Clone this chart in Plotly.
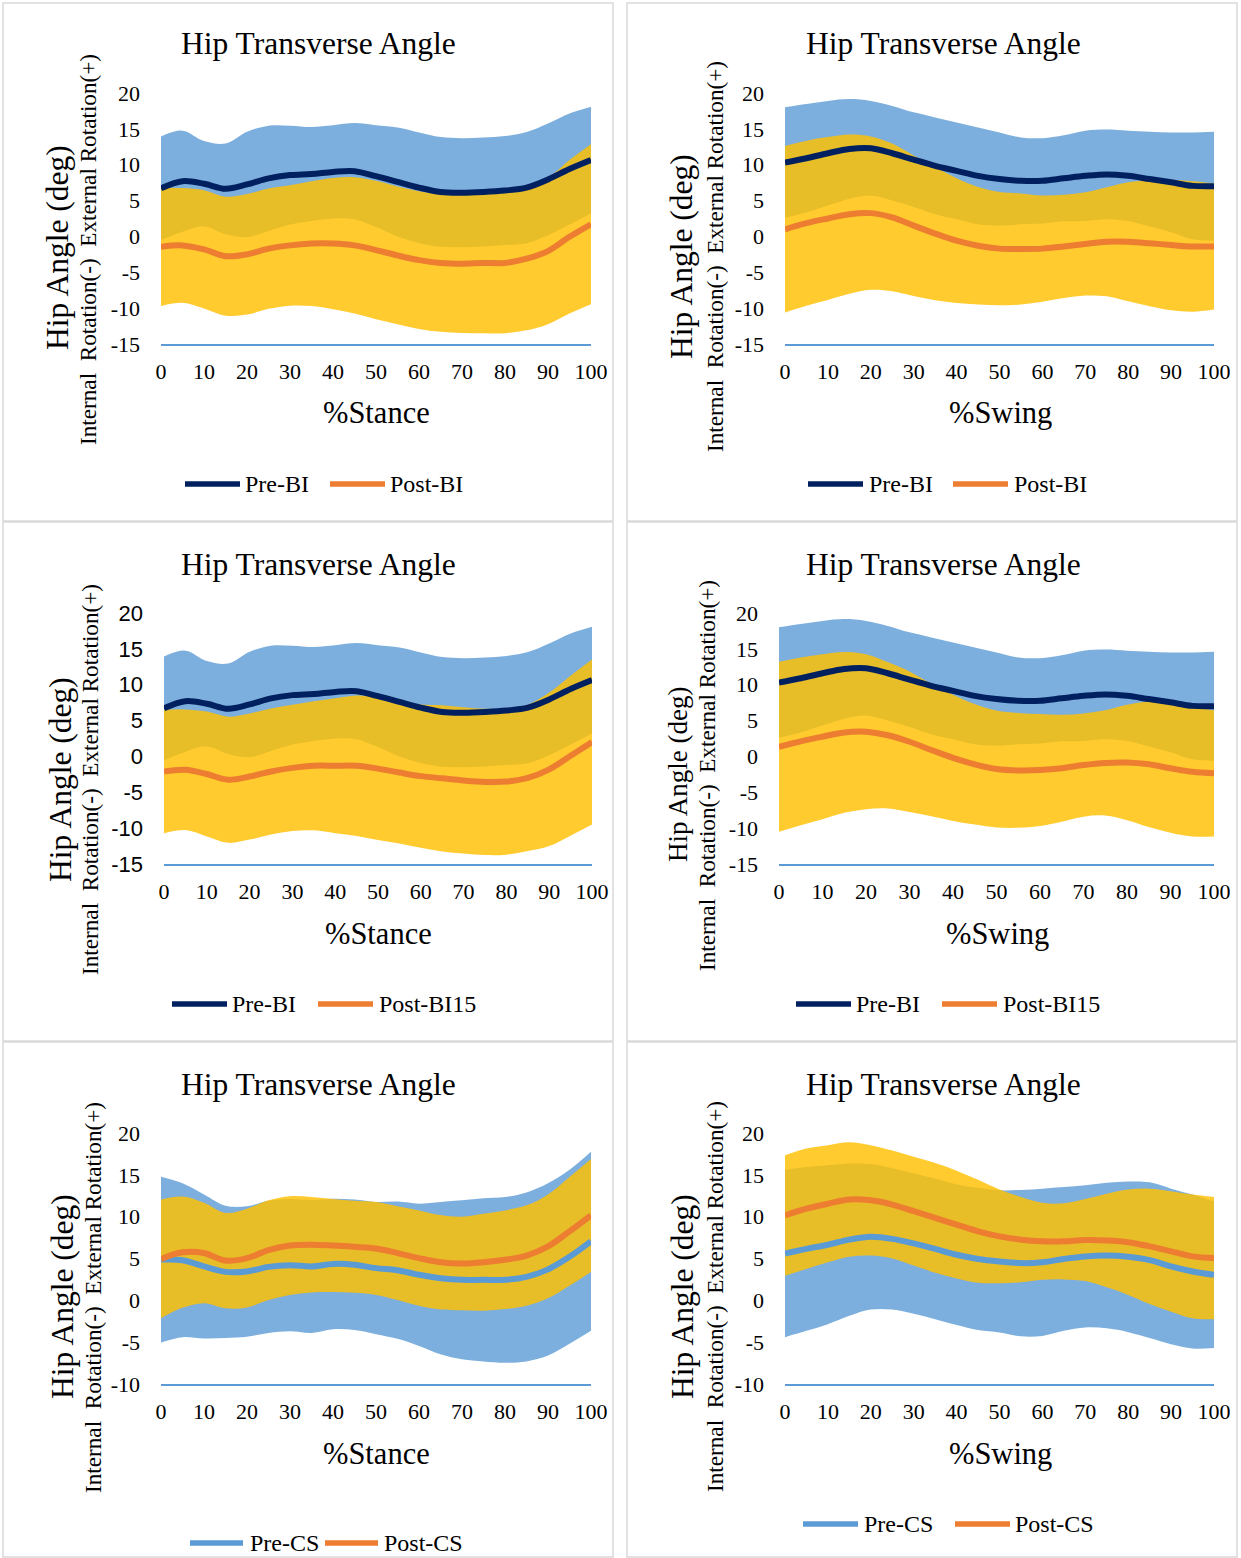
import plotly.graph_objects as go

W, H = 1241, 1558

# Percent of gait phase (sampled every 5 %)
PCT = list(range(0, 101, 5))
X_TICKS = list(range(0, 101, 10))
Y_TICKS_WIDE = [-15, -10, -5, 0, 5, 10, 15, 20]
Y_TICKS_NARROW = [-10, -5, 0, 5, 10, 15, 20]

# ---- Stance phase, Pre-BI (mean and SD, deg) ----
stance_pre_bi_mean = [6.7, 7.7, 7.35, 6.65, 7.25, 8.1, 8.55, 8.7, 9.0, 9.1, 8.4,
                      7.6, 6.8, 6.2, 6.1, 6.2, 6.4, 6.8, 7.95, 9.4, 10.65]
stance_pre_bi_sd = [7.25, 7.05, 5.95, 6.3, 7.35, 7.35, 6.9, 6.55, 6.5, 6.7, 7.1,
                    7.6, 7.7, 7.65, 7.6, 7.6, 7.6, 7.75, 7.8, 7.75, 7.45]

# ---- Stance phase, Post-BI ----
stance_post_bi_mean = [-1.45, -1.25, -1.8, -2.75, -2.5, -1.7, -1.25, -1.0, -1.0, -1.25, -1.9,
                       -2.65, -3.3, -3.7, -3.8, -3.7, -3.7, -3.1, -2.05, -0.05, 1.7]
stance_post_bi_sd = [8.25, 8.0, 8.25, 8.3, 8.4, 8.4, 8.4, 8.7, 9.15, 9.5, 9.65,
                     9.6, 9.6, 9.6, 9.65, 9.8, 9.8, 10.0, 10.2, 10.7, 11.15]

# ---- Stance phase, Post-BI15 ----
stance_post_bi15_mean = [-2.1, -1.85, -2.45, -3.25, -2.8, -2.1, -1.6, -1.3, -1.3, -1.3, -1.7,
                         -2.25, -2.75, -3.05, -3.35, -3.55, -3.5, -3.0, -1.8, 0.1, 2.0]
stance_post_bi15_sd = [8.6, 8.4, 8.7, 8.8, 8.8, 8.8, 8.8, 9.0, 9.4, 9.8, 9.95,
                       9.9, 10.0, 10.2, 10.2, 10.2, 10.2, 10.2, 10.7, 11.15, 11.5]

# ---- Swing phase, Pre-BI ----
swing_pre_bi_mean = [10.3, 10.9, 11.6, 12.2, 12.3, 11.6, 10.7, 9.85, 9.15, 8.45, 8.0,
                     7.75, 7.75, 8.1, 8.45, 8.65, 8.45, 8.0, 7.55, 7.05, 7.0]
swing_pre_bi_sd = [7.7, 7.55, 7.3, 6.95, 6.6, 6.6, 6.6, 6.75, 6.75, 6.75, 6.5,
                   6.05, 5.95, 6.0, 6.3, 6.25, 6.3, 6.6, 6.95, 7.45, 7.6]

# ---- Swing phase, Post-BI ----
swing_post_bi_mean = [1.0, 1.85, 2.5, 3.1, 3.25, 2.65, 1.5, 0.4, -0.6, -1.3, -1.7,
                      -1.75, -1.7, -1.4, -1.05, -0.75, -0.75, -0.95, -1.2, -1.4, -1.4]
swing_post_bi_sd = [11.6, 11.5, 11.35, 11.1, 10.7, 10.3, 9.8, 9.3, 8.7, 8.2, 7.9,
                    7.75, 7.4, 7.2, 7.2, 7.6, 8.3, 8.8, 9.1, 9.1, 8.8]

# ---- Swing phase, Post-BI15 ----
swing_post_bi15_mean = [1.35, 2.1, 2.75, 3.35, 3.45, 2.95, 2.05, 0.9, -0.2, -1.1, -1.75,
                        -1.95, -1.9, -1.65, -1.2, -0.9, -0.85, -1.1, -1.65, -2.15, -2.35]
swing_post_bi15_sd = [11.85, 11.7, 11.5, 11.2, 10.8, 10.2, 9.8, 9.25, 8.8, 8.4, 8.15,
                      8.0, 7.8, 7.45, 7.2, 7.35, 8.05, 8.75, 9.0, 9.0, 8.8]

# ---- Stance phase, Pre-CS ----
stance_pre_cs_mean = [4.87, 4.8, 4.05, 3.4, 3.45, 4.0, 4.2, 4.05, 4.35, 4.25, 3.85,
                      3.6, 3.05, 2.65, 2.45, 2.45, 2.45, 2.8, 3.7, 5.2, 7.05]
stance_pre_cs_sd = [9.9, 9.2, 8.6, 7.9, 7.8, 7.9, 7.9, 7.95, 7.8, 7.8, 7.9,
                    8.2, 8.5, 9.1, 9.5, 9.75, 9.9, 10.1, 10.3, 10.4, 10.7]

# ---- Stance phase, Post-CS ----
stance_post_cs_mean = [4.95, 5.75, 5.65, 4.75, 5.05, 6.0, 6.55, 6.65, 6.55, 6.4, 6.2,
                       5.65, 5.05, 4.55, 4.4, 4.55, 4.85, 5.35, 6.45, 8.25, 10.15]
stance_post_cs_sd = [7.1, 6.65, 6.0, 5.7, 5.9, 5.95, 5.9, 5.7, 5.55, 5.5, 5.55,
                     5.6, 5.7, 5.65, 5.6, 5.8, 5.9, 6.0, 6.2, 6.5, 6.75]

# ---- Swing phase, Pre-CS ----
swing_pre_cs_mean = [5.6, 6.15, 6.65, 7.25, 7.6, 7.35, 6.8, 6.15, 5.45, 4.95, 4.65,
                     4.45, 4.55, 4.95, 5.25, 5.35, 5.2, 4.8, 4.05, 3.45, 3.05]
swing_pre_cs_sd = [10.0, 9.8, 9.5, 9.1, 8.7, 8.45, 8.4, 8.4, 8.4, 8.5, 8.5,
                   8.75, 8.8, 8.6, 8.5, 8.7, 9.0, 9.3, 9.3, 9.2, 8.75]

# ---- Swing phase, Post-CS ----
swing_post_cs_mean = [10.15, 10.95, 11.55, 12.05, 11.95, 11.45, 10.65, 9.85, 9.05, 8.25, 7.65,
                      7.25, 7.05, 7.05, 7.2, 7.15, 6.95, 6.45, 5.85, 5.25, 5.05]
swing_post_cs_sd = [7.2, 7.2, 7.0, 6.85, 6.6, 6.45, 6.5, 6.55, 6.45, 6.15, 5.6,
                    5.1, 4.6, 4.55, 4.9, 5.6, 6.3, 6.9, 7.2, 7.4, 7.3]

CHART_TITLE = "Hip Transverse Angle"
Y_TITLE = "Hip Angle (deg)"
Y_SUBTITLE = "Internal\u00a0\u00a0Rotation(-)\u00a0\u00a0External Rotation(+)"

NAVY = "#002060"
ORANGE = "#ED7D31"
LIGHT_BLUE = "#5B9BD5"
BAND_BLUE = "rgba(91,155,213,0.80)"
BAND_YELLOW = "rgba(255,192,0,0.82)"
SERIF = "Liberation Serif"
SANS = "Liberation Sans"


def px(x):
    return x / W


def py(y):
    return 1 - y / H


# Panel layout in page pixels
panels = [
    dict(plot_x=(161, 591), plot_y=(93, 344), yrange=(-15, 20), yticks=Y_TICKS_WIDE, ytickfont=SERIF,
         title=(318, 43), xtitle=("%Stance", 376, 413),
         ytitle=(57, 248, 31.5), ysub=(88, 250),
         legend_y=484, legend=[(185, 240, 243), (330, 385, 388)],
         series=[("Pre-BI", stance_pre_bi_mean, stance_pre_bi_sd, NAVY, BAND_BLUE),
                 ("Post-BI", stance_post_bi_mean, stance_post_bi_sd, ORANGE, BAND_YELLOW)]),
    dict(plot_x=(785, 1214), plot_y=(93, 344), yrange=(-15, 20), yticks=Y_TICKS_WIDE, ytickfont=SERIF,
         title=(943, 43), xtitle=("%Swing", 1000, 413),
         ytitle=(682, 257, 31.5), ysub=(715, 257),
         legend_y=484, legend=[(808, 863, 867), (953, 1008, 1012)],
         series=[("Pre-BI", swing_pre_bi_mean, swing_pre_bi_sd, NAVY, BAND_BLUE),
                 ("Post-BI", swing_post_bi_mean, swing_post_bi_sd, ORANGE, BAND_YELLOW)]),
    dict(plot_x=(164, 592), plot_y=(613, 864), yrange=(-15, 20), yticks=Y_TICKS_WIDE, ytickfont=SANS,
         title=(318, 564), xtitle=("%Stance", 378, 934),
         ytitle=(60, 780, 31.5), ysub=(90, 780),
         legend_y=1004, legend=[(172, 227, 230), (318, 373, 377)],
         series=[("Pre-BI", stance_pre_bi_mean, stance_pre_bi_sd, NAVY, BAND_BLUE),
                 ("Post-BI15", stance_post_bi15_mean, stance_post_bi15_sd, ORANGE, BAND_YELLOW)]),
    dict(plot_x=(779, 1214), plot_y=(613, 864), yrange=(-15, 20), yticks=Y_TICKS_WIDE, ytickfont=SERIF,
         title=(943, 564), xtitle=("%Swing", 997, 934),
         ytitle=(678, 775, 27), ysub=(707, 775),
         legend_y=1004, legend=[(796, 851, 854), (942, 997, 1001)],
         series=[("Pre-BI", swing_pre_bi_mean, swing_pre_bi_sd, NAVY, BAND_BLUE),
                 ("Post-BI15", swing_post_bi15_mean, swing_post_bi15_sd, ORANGE, BAND_YELLOW)]),
    dict(plot_x=(161, 591), plot_y=(1133, 1384), yrange=(-10, 20), yticks=Y_TICKS_NARROW, ytickfont=SERIF,
         title=(318, 1084), xtitle=("%Stance", 376, 1454),
         ytitle=(62, 1297, 31.5), ysub=(93, 1297),
         legend_y=1543, legend=[(190, 243, 248), (325, 378, 382)],
         series=[("Pre-CS", stance_pre_cs_mean, stance_pre_cs_sd, LIGHT_BLUE, BAND_BLUE),
                 ("Post-CS", stance_post_cs_mean, stance_post_cs_sd, ORANGE, BAND_YELLOW)]),
    dict(plot_x=(785, 1214), plot_y=(1133, 1384), yrange=(-10, 20), yticks=Y_TICKS_NARROW, ytickfont=SERIF,
         title=(943, 1084), xtitle=("%Swing", 1000, 1454),
         ytitle=(682, 1297, 31.5), ysub=(715, 1297),
         legend_y=1524, legend=[(803, 858, 862), (955, 1010, 1013)],
         series=[("Pre-CS", swing_pre_cs_mean, swing_pre_cs_sd, LIGHT_BLUE, BAND_BLUE),
                 ("Post-CS", swing_post_cs_mean, swing_post_cs_sd, ORANGE, BAND_YELLOW)]),
]

# Frames around each chart card
frames = [(3, 3, 613, 521), (627, 3, 1237, 521),
          (3, 522, 613, 1041), (627, 522, 1237, 1041),
          (3, 1042, 613, 1557), (627, 1042, 1237, 1557)]

fig = go.Figure()
layout = dict(width=W, height=H, autosize=False,
              margin=dict(l=0, r=0, t=0, b=0, pad=0, autoexpand=False),
              paper_bgcolor="white", plot_bgcolor="white", showlegend=False)
shapes = []
annotations = []

for i, p in enumerate(panels, start=1):
    sfx = "" if i == 1 else str(i)
    xa, ya = "x" + sfx, "y" + sfx

    # SD bands first (mean ± SD), then the mean curves on top
    for name, mean, sd, lcolor, bcolor in p["series"]:
        upper = [m + s for m, s in zip(mean, sd)]
        lower = [m - s for m, s in zip(mean, sd)]
        fig.add_trace(go.Scatter(x=PCT, y=upper, mode="lines",
                                 line=dict(width=0, shape="spline", smoothing=1.0),
                                 hoverinfo="skip", showlegend=False, xaxis=xa, yaxis=ya))
        fig.add_trace(go.Scatter(x=PCT, y=lower, mode="lines",
                                 line=dict(width=0, shape="spline", smoothing=1.0),
                                 fill="tonexty", fillcolor=bcolor,
                                 hoverinfo="skip", showlegend=False, xaxis=xa, yaxis=ya))
    for name, mean, sd, lcolor, bcolor in p["series"]:
        fig.add_trace(go.Scatter(x=PCT, y=mean, mode="lines", name=name,
                                 line=dict(color=lcolor, width=6, shape="spline", smoothing=1.0),
                                 showlegend=False, xaxis=xa, yaxis=ya))

    x0, x1 = p["plot_x"]
    ytop, ybot = p["plot_y"]
    layout["xaxis" + sfx] = dict(
        domain=[px(x0), px(x1)], range=[0, 100], anchor=ya, automargin=False,
        tickvals=X_TICKS, ticktext=[str(v) for v in X_TICKS], ticks="",
        showgrid=False, zeroline=False,
        showline=True, linecolor=LIGHT_BLUE, linewidth=1.6,
        tickfont=dict(family=SERIF, size=22, color="black"),
        ticklabelstandoff=7, fixedrange=True)
    layout["yaxis" + sfx] = dict(
        domain=[py(ybot), py(ytop)], range=list(p["yrange"]), anchor=xa, automargin=False,
        tickvals=p["yticks"], ticktext=[str(v) for v in p["yticks"]], ticks="",
        showgrid=False, zeroline=False, showline=False,
        tickfont=dict(family=p["ytickfont"], size=22, color="black"),
        ticklabelstandoff=20, fixedrange=True)

    tx, ty = p["title"]
    annotations.append(dict(text=CHART_TITLE, x=px(tx), y=py(ty), xref="paper", yref="paper",
                            showarrow=False, xanchor="center", yanchor="middle",
                            font=dict(family=SERIF, size=31.5, color="black")))
    xt, xx, xy = p["xtitle"]
    annotations.append(dict(text=xt, x=px(xx), y=py(xy), xref="paper", yref="paper",
                            showarrow=False, xanchor="center", yanchor="middle",
                            font=dict(family=SERIF, size=30.5, color="black")))
    yx, yy, ysize = p["ytitle"]
    annotations.append(dict(text=Y_TITLE, x=px(yx), y=py(yy), xref="paper", yref="paper",
                            showarrow=False, textangle=-90, xanchor="center", yanchor="middle",
                            font=dict(family=SERIF, size=ysize, color="black")))
    sx, sy = p["ysub"]
    annotations.append(dict(text=Y_SUBTITLE, x=px(sx), y=py(sy), xref="paper", yref="paper",
                            showarrow=False, textangle=-90, xanchor="center", yanchor="middle",
                            font=dict(family=SERIF, size=23.2, color="black")))

    # Legend: colored swatch followed by series name
    ly = p["legend_y"]
    for (lx0, lx1, tx0), (name, mean, sd, lcolor, bcolor) in zip(p["legend"], p["series"]):
        shapes.append(dict(type="line", xref="paper", yref="paper",
                           x0=px(lx0), x1=px(lx1), y0=py(ly), y1=py(ly),
                           line=dict(color=lcolor, width=5.5)))
        annotations.append(dict(text=name, x=px(tx0), y=py(ly), xref="paper", yref="paper",
                                showarrow=False, xanchor="left", yanchor="middle",
                                font=dict(family=SERIF, size=24, color="black")))

for fx0, fy0, fx1, fy1 in frames:
    shapes.append(dict(type="rect", xref="paper", yref="paper",
                       x0=px(fx0), x1=px(fx1), y0=py(fy1), y1=py(fy0),
                       line=dict(color="#D9D9D9", width=1.5), fillcolor="rgba(0,0,0,0)",
                       layer="below"))

layout["shapes"] = shapes
layout["annotations"] = annotations
fig.update_layout(**layout)

# Page without body margin so the figure fills the window exactly
fig.write_html(
    "out.html",
    post_script="document.body.style.margin='0';document.body.style.padding='0';",
)
